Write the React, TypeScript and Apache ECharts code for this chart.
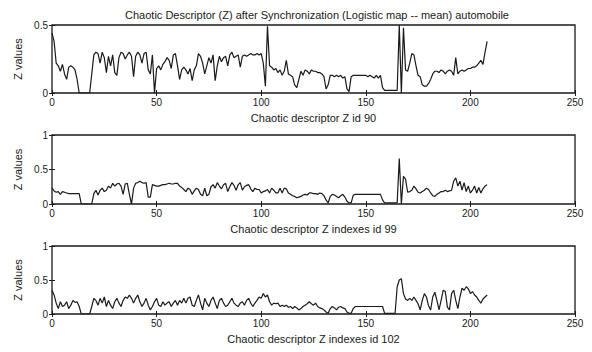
import React, { useEffect, useRef } from "react";
import * as echarts from "echarts";

const TITLE = "Chaotic Descriptor (Z) after Synchronization (Logistic map -- mean) automobile";
const X_NAMES = [
  "Chaotic descriptor Z id 90",
  "Chaotic descriptor Z indexes id 99",
  "Chaotic descriptor Z indexes id 102",
];
const Y_NAME = "Z values";
const X_MAX = 250;
const X_STEP = 50;
const Y_MAXES = [0.5, 1, 1];
const Y_STEP = 0.5;

const zId90 = [
  0.44, 0.38, 0.22, 0.2, 0.16, 0.21, 0.14, 0.1, 0.19, 0.2,
  0.19, 0.17, 0.1, 0, 0, 0, 0, 0, 0, 0.14,
  0.28, 0.3, 0.29, 0.22, 0.3, 0.26, 0.15, 0.27, 0.2, 0.28,
  0.15, 0.13, 0.26, 0.3, 0.29, 0.25, 0.28, 0.3, 0.27, 0.12,
  0.27, 0.3, 0.28, 0.22, 0.29, 0.3, 0.17, 0.14, 0.28, 0,
  0.18, 0.2, 0.17, 0.21, 0.23, 0.26, 0.24, 0.18, 0.28, 0.29,
  0.2, 0.1, 0.17, 0.19, 0.17, 0.14, 0.18, 0.09, 0.17, 0.2,
  0.29, 0.27, 0.22, 0.14, 0.2, 0.26, 0.22, 0.28, 0.09, 0.2,
  0.27, 0.23, 0.26, 0.27, 0.2, 0.28, 0.3, 0.26, 0.27, 0.28,
  0.19, 0.27, 0.28, 0.27, 0.28, 0.29, 0.28, 0.28, 0.29, 0.28,
  0.29, 0.22, 0.05, 0.49, 0.2, 0.19, 0.17, 0.18, 0.15, 0.17,
  0.13, 0.16, 0.24, 0.14, 0.13, 0.12, 0.06, 0.04, 0.1, 0.16,
  0.13, 0.17, 0.16, 0.14, 0.17, 0.16, 0.16, 0.15, 0.15, 0.14,
  0.12, 0.03, 0.06, 0.13, 0.13, 0.12, 0.13, 0.12, 0.13, 0.11,
  0.12, 0.03, 0.01, 0.12, 0.13, 0.13, 0.13, 0.13, 0.13, 0.13,
  0.13, 0.12, 0.13, 0.12, 0.11, 0.13, 0.11, 0.13, 0.04, 0.02,
  0.02, 0.02, 0.02, 0.02, 0.02, 0.02, 0.5, 0, 0.48, 0.17,
  0.16, 0.22, 0.29, 0.28, 0.2, 0.13, 0.12, 0.06, 0.05, 0.05,
  0.07, 0.1, 0.14, 0.16, 0.16, 0.15, 0.17, 0.16, 0.14, 0.16,
  0.17, 0.16, 0.13, 0.26, 0.14, 0.16, 0.17, 0.16, 0.17, 0.18,
  0.18, 0.19, 0.19, 0.2, 0.22, 0.24, 0.21, 0.3, 0.38,
];

const zId99 = [
  0.23, 0.19, 0.17, 0.18, 0.14, 0.18, 0.17, 0.16, 0.15, 0.15,
  0.15, 0.15, 0.15, 0.15, 0, 0, 0, 0, 0, 0,
  0.15, 0.2, 0.13, 0.2, 0.23, 0.18, 0.2, 0.26, 0.23, 0.3,
  0.26, 0.29, 0.3, 0.26, 0.14, 0.29, 0.3, 0.14, 0, 0.23,
  0.3, 0.31, 0.33, 0.31, 0.3, 0.31, 0.1, 0.1, 0.28, 0.27,
  0.26, 0.26, 0.27, 0.28, 0.28, 0.29, 0.3, 0.29, 0.29, 0.3,
  0.3, 0.26, 0.24, 0.21, 0.18, 0.23, 0.21, 0.14, 0.19, 0.23,
  0.21, 0.14, 0.12, 0.23, 0.12, 0.14, 0.25, 0.28, 0.23, 0.31,
  0.26, 0.22, 0.28, 0.3, 0.18, 0.25, 0.31, 0.27, 0.2, 0.28,
  0.31, 0.2, 0.25, 0.27, 0.28, 0.22, 0.18, 0.23, 0.21, 0.21,
  0.16, 0.18, 0.19, 0.21, 0.16, 0.23, 0.2, 0.16, 0.16, 0.23,
  0.16, 0.23, 0.22, 0.16, 0.14, 0.12, 0.11, 0.09, 0.1, 0.11,
  0.13, 0.14, 0.13, 0.16, 0.16, 0.15, 0.15, 0.14, 0.16, 0.15,
  0.12, 0.06, 0.015, 0.11, 0.14, 0.13, 0.11, 0.09, 0.12, 0.14,
  0.1, 0.04, 0.015, 0.015, 0.13, 0.14, 0.14, 0.14, 0.14, 0.14,
  0.14, 0.14, 0.14, 0.14, 0.14, 0.14, 0.14, 0.14, 0.06, 0.015,
  0.015, 0.015, 0.015, 0.015, 0.015, 0.02, 0.66, 0, 0.4, 0.36,
  0.17, 0.18, 0.2, 0.26, 0.22, 0.17, 0.16, 0.18, 0.2, 0.23,
  0.21, 0.16, 0.12, 0.11, 0.14, 0.16, 0.18, 0.18, 0.2, 0.18,
  0.19, 0.2, 0.33, 0.38, 0.26, 0.33, 0.2, 0.31, 0.18, 0.26,
  0.16, 0.2, 0.26, 0.16, 0.24, 0.16, 0.22, 0.26, 0.28,
];

const zId102 = [
  0.35, 0.28, 0.16, 0.08, 0.18, 0.11, 0.13, 0.18, 0.08, 0.13,
  0.2, 0.17, 0.18, 0.11, 0, 0, 0, 0, 0, 0.11,
  0.23, 0.2, 0.13, 0.23, 0.16, 0.25, 0.11, 0.2, 0.13, 0.08,
  0.18, 0.23, 0.16, 0.11, 0.2, 0.25, 0.23, 0.28, 0.23, 0.16,
  0.23, 0.28, 0.18, 0.11, 0.16, 0.23, 0.13, 0.06, 0.11, 0.18,
  0.23, 0.13, 0.11, 0.18, 0.13, 0.16, 0.18, 0.11, 0.16, 0.2,
  0.13, 0.2, 0.16, 0.23, 0.16, 0.23, 0.25, 0.13, 0.11, 0.2,
  0.28, 0.16, 0.06, 0.23, 0.16, 0.11, 0.2, 0.25, 0.16, 0.08,
  0.2, 0.23, 0.16, 0.11, 0.13, 0.18, 0.23, 0.16, 0.13, 0.11,
  0.16, 0.18, 0.13, 0.2, 0.23, 0.16, 0.11, 0.16, 0.2, 0.25,
  0.23, 0.3, 0.25, 0.28, 0.18, 0.13, 0.16, 0.15, 0.16, 0.11,
  0.13, 0.11, 0.13, 0.1, 0.11, 0.08, 0.11, 0.09, 0.06, 0.08,
  0.11, 0.13, 0.15, 0.18, 0.15, 0.13, 0.16, 0.11, 0.09, 0.08,
  0.06, 0.03, 0.01, 0.08, 0.11, 0.09, 0.06, 0.1, 0.11, 0.09,
  0.08, 0.03, 0.01, 0.01, 0.08, 0.11, 0.11, 0.11, 0.11, 0.11,
  0.11, 0.11, 0.11, 0.11, 0.11, 0.11, 0.11, 0.11, 0.11, 0.01,
  0.01, 0.01, 0.01, 0.01, 0.01, 0.4, 0.5, 0.52, 0.3, 0.22,
  0.2, 0.23, 0.2, 0.25, 0.2, 0.15, 0.06, 0.2, 0.3, 0.25,
  0.12, 0.06, 0.25, 0.32, 0.2, 0.06, 0.2, 0.35, 0.33, 0.1,
  0.06, 0.3, 0.35, 0.2, 0.08, 0.25, 0.38, 0.35, 0.4, 0.37,
  0.3, 0.33, 0.28, 0.25, 0.2, 0.16, 0.22, 0.25, 0.28,
];

const SERIES = [zId90, zId99, zId102];

const FONT = "Liberation Sans, Arial, sans-serif";
const INK = "#1a1a1a";
const GRIDS = [
  { left: 52, top: 25, width: 523, height: 68 },
  { left: 52, top: 135, width: 523, height: 69 },
  { left: 52, top: 246, width: 523, height: 68 },
];

export default function App() {
  const ref = useRef<HTMLDivElement>(null);
  useEffect(() => {
    if (!ref.current) return;
    const chart = echarts.init(ref.current, null, { renderer: "svg" });
    const xAxis: any[] = [];
    const yAxis: any[] = [];
    const series: any[] = [];
    GRIDS.forEach((_, i) => {
      const tick = { show: true, inside: true, length: 3, lineStyle: { color: INK, width: 1 } };
      xAxis.push({
        type: "value", gridIndex: i, min: 0, max: X_MAX, interval: X_STEP, position: "bottom",
        axisLine: { show: false }, axisTick: tick, splitLine: { show: false },
        axisLabel: { color: INK, fontSize: 10, fontFamily: FONT, margin: 4 },
        name: X_NAMES[i], nameLocation: "middle", nameGap: 19,
        nameTextStyle: { color: INK, fontSize: 11, fontFamily: FONT },
      });
      xAxis.push({
        type: "value", gridIndex: i, min: 0, max: X_MAX, interval: X_STEP, position: "top",
        axisLine: { show: false }, axisTick: tick, splitLine: { show: false },
        axisLabel: { show: false },
      });
      yAxis.push({
        type: "value", gridIndex: i, min: 0, max: Y_MAXES[i], interval: Y_STEP, position: "left",
        axisLine: { show: false }, axisTick: tick, splitLine: { show: false },
        axisLabel: { color: INK, fontSize: 10, fontFamily: FONT, margin: 4 },
        name: Y_NAME, nameLocation: "middle", nameGap: 22,
        nameTextStyle: { color: INK, fontSize: 11, fontFamily: FONT },
      });
      yAxis.push({
        type: "value", gridIndex: i, min: 0, max: Y_MAXES[i], interval: Y_STEP, position: "right",
        axisLine: { show: false }, axisTick: tick, splitLine: { show: false },
        axisLabel: { show: false },
      });
      series.push({
        type: "line", xAxisIndex: i * 2, yAxisIndex: i * 2, showSymbol: false, symbol: "none",
        data: SERIES[i].map((v, k) => [k, v]),
        lineStyle: { color: INK, width: 1.2 }, clip: true,
      });
    });
    chart.setOption({
      animation: false,
      backgroundColor: "#fff",
      title: {
        text: TITLE, left: 312, top: 4, textAlign: "center",
        textStyle: { color: INK, fontSize: 11, fontWeight: "normal", fontFamily: FONT },
      },
      grid: GRIDS.map((g) => ({ ...g, show: true, borderColor: INK, borderWidth: 1.3, backgroundColor: "#fff" })),
      xAxis, yAxis, series,
    });
    return () => chart.dispose();
  }, []);
  return <div ref={ref} style={{ position: "fixed", left: 0, top: 0, width: 592, height: 352, background: "#fff" }} />;
}
